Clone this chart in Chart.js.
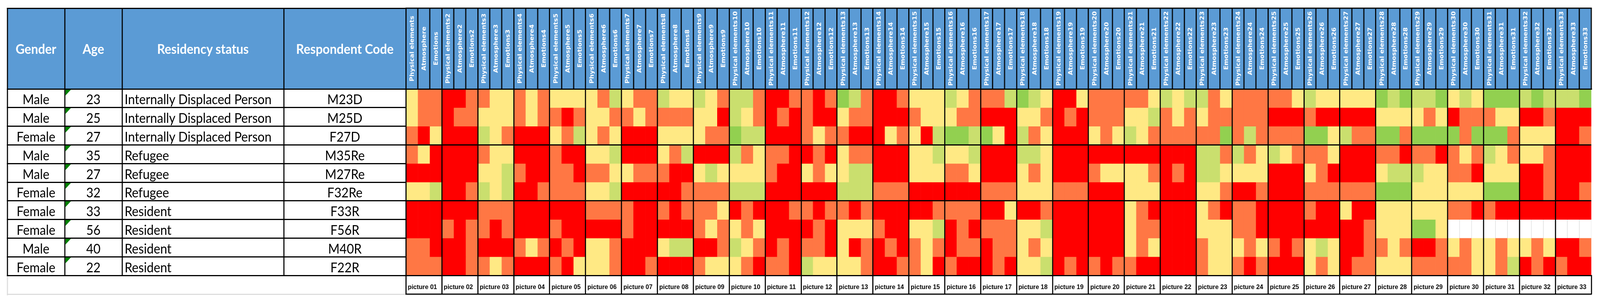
<!DOCTYPE html>
<html><head><meta charset="utf-8">
<script src="https://cdn.jsdelivr.net/npm/chart.js@4/dist/chart.umd.min.js"></script>
<style>
html,body{margin:0;padding:0;background:#fff;overflow:hidden;}
body{width:100vw;height:769px;position:relative;}
#page{position:absolute;left:0;top:0;width:4404px;height:769px;transform-origin:0 0;}
.t{position:absolute;box-sizing:border-box;font-family:Lato,'Open Sans',sans-serif;font-size:34px;color:#000;white-space:nowrap;display:flex;align-items:center;}
.h{color:#fff;font-weight:bold;justify-content:center;}
.c{justify-content:center;}
.l{justify-content:flex-start;padding-left:7px;}
.ln{position:absolute;background:#000;}
.tri{position:absolute;width:0;height:0;border-top:15px solid #008000;border-right:15px solid transparent;}
#wrap{position:absolute;left:1100px;top:0;width:3304px;height:769px;}
</style></head><body>
<div id="page">
<div id="left"></div>
<div id="wrap"><canvas id="c"></canvas></div>
</div>
<script>
// ---- table columns (left part)
const leftHeaders = ['Gender', 'Age', 'Residency status', 'Respondent Code'];
const genders = ['Male','Male','Female','Male','Male','Female','Female','Female','Male','Female'];
const ages = ['23','25','27','35','27','32','33','56','40','22'];
const residency = ['Internally Displaced Person','Internally Displaced Person','Internally Displaced Person','Refugee','Refugee','Refugee','Resident','Resident','Resident','Resident'];
const codes = ['M23D','M25D','F27D','M35Re','M27Re','F32Re','F33R','F56R','M40R','F22R'];

// ---- heatmap column labels
const columnLabels = [
 'Physical elements','Atmosphere','Emotions',
 'Physical elements2','Atmosphere2','Emotions2',
 'Physical elements3','Atmosphere3','Emotions3',
 'Physical elements4','Atmosphere4','Emotions4',
 'Physical elements5','Atmosphere5','Emotions5',
 'Physical elements6','Atmosphere6','Emotions6',
 'Physical elements7','Atmosphere7','Emotions7',
 'Physical elements8','Atmosphere8','Emotions8',
 'Physical elements9','Atmosphere9','Emotions9',
 'Physical elements10','Atmosphere10','Emotions10',
 'Physical elements11','Atmosphere11','Emotions11',
 'Physical elements12','Atmosphere12','Emotions12',
 'Physical elements13','Atmosphere13','Emotions13',
 'Physical elements14','Atmosphere14','Emotions14',
 'Physical elements15','Atmosphere15','Emotions15',
 'Physical elements16','Atmosphere16','Emotions16',
 'Physical elements17','Atmosphere17','Emotions17',
 'Physical elements18','Atmosphere18','Emotions18',
 'Physical elements19','Atmosphere19','Emotions19',
 'Physical elements20','Atmosphere20','Emotions20',
 'Physical elements21','Atmosphere21','Emotions21',
 'Physical elements22','Atmosphere22','Emotions22',
 'Physical elements23','Atmosphere23','Emotions23',
 'Physical elements24','Atmosphere24','Emotions24',
 'Physical elements25','Atmosphere25','Emotions25',
 'Physical elements26','Atmosphere26','Emotions26',
 'Physical elements27','Atmosphere27','Emotions27',
 'Physical elements28','Atmosphere28','Emotions28',
 'Physical elements29','Atmosphere29','Emotions29',
 'Physical elements30','Atmosphere30','Emotions30',
 'Physical elements31','Atmosphere31','Emotions31',
 'Physical elements32','Atmosphere32','Emotions32',
 'Physical elements33','Atmosphere33','Emotions33'
];
const pictures = ['picture 01','picture 02','picture 03','picture 04','picture 05','picture 06','picture 07','picture 08','picture 09','picture 10','picture 11','picture 12','picture 13','picture 14','picture 15','picture 16','picture 17','picture 18','picture 19','picture 20','picture 21','picture 22','picture 23','picture 24','picture 25','picture 26','picture 27','picture 28','picture 29','picture 30','picture 31','picture 32','picture 33'];

// ---- values: 1 = red, 2 = orange, 3 = yellow, 4 = light green, 5 = green, null = empty
const M23D = [3,2,2, 1,1,2, 2,3,3, 2,3,2, 3,3,3, 3,2,4, 3,2,2, 4,3,3, 4,3,2, 4,4,2,
  1,1,2, 2,1,2, 5,4,2, 1,1,2, 3,3,3, 4,3,2, 2,2,4, 5,4,3, 1,1,3, 2,2,2,
  2,2,3, 4,3,4, 4,2,3, 2,2,2, 2,2,3, 4,3,3, 3,3,3, 5,4,5, 4,4,5, 3,4,3,
  5,5,5, 4,5,4, 4,4,5];
const M25D = [3,2,2, 1,2,2, 3,3,3, 2,3,2, 2,1,2, 3,3,2, 2,3,2, 2,2,2, 3,3,1, 4,3,2,
  1,2,1, 2,1,1, 3,2,2, 1,1,1, 2,3,3, 3,2,2, 1,1,1, 3,3,2, 1,2,1, 2,2,2,
  3,3,4, 2,3,2, 3,2,2, 2,2,2, 1,1,1, 2,1,1, 1,1,1, 3,3,3, 3,2,3, 1,2,2,
  2,3,3, 1,1,2, 1,1,1];
const F27D = [2,1,3, 1,1,1, 4,3,2, 1,1,1, 3,2,4, 3,2,3, 1,1,1, 3,3,3, 3,2,2, 5,4,4,
  1,1,1, 2,3,2, 2,1,1, 1,3,2, 3,1,4, 5,5,4, 5,3,1, 4,2,3, 1,1,1, 3,2,3,
  4,3,2, 2,2,2, 2,2,5, 2,4,2, 2,2,2, 5,5,3, 4,2,2, 5,5,2, 5,5,5, 5,2,5,
  5,5,2, 3,3,3, 1,1,2];
const M35Re = [2,3,1, 1,1,1, 2,3,3, 1,1,1, 2,1,1, 3,3,4, 1,1,1, 3,2,4, 1,1,1, 4,2,3,
  2,2,1, 1,2,1, 3,2,2, 1,1,1, 3,3,4, 3,3,4, 1,1,1, 4,4,3, 1,1,1, 1,1,1,
  1,1,1, 1,1,1, 4,4,2, 4,2,3, 4,3,2, 2,2,3, 1,1,1, 2,2,1, 2,2,1, 2,3,2,
  4,3,2, 3,3,2, 1,1,1];
const M27Re = [1,1,1, 1,1,1, 3,3,4, 2,1,1, 2,2,1, 2,2,3, 3,2,2, 2,1,1, 3,4,3, 3,3,3,
  2,1,1, 3,2,3, 3,4,4, 1,1,1, 3,3,3, 2,2,3, 1,1,1, 3,2,3, 1,1,1, 2,3,3,
  3,3,2, 1,2,1, 4,4,3, 3,3,3, 1,1,1, 3,2,1, 1,1,1, 3,4,4, 4,3,3, 2,2,1,
  3,3,3, 1,1,2, 1,1,1];
const F32Re = [3,3,4, 1,1,2, 4,3,4, 1,1,2, 2,2,2, 3,3,4, 1,1,1, 1,1,2, 2,2,2, 4,4,4,
  1,1,1, 1,1,1, 4,4,4, 2,2,2, 1,1,1, 1,1,1, 2,2,2, 3,3,3, 2,2,2, 1,1,1,
  3,3,3, 1,1,1, 3,3,2, 1,1,2, 1,1,1, 2,2,2, 2,2,2, 5,5,5, 3,3,3, 3,3,3,
  5,5,5, 1,1,2, 1,1,2];
const F33R = [1,1,1, 1,1,1, 2,2,2, 1,1,1, 1,1,1, 2,2,2, 2,1,1, 2,1,2, 2,2,3, 1,2,1,
  1,1,2, 2,1,2, 2,1,2, 1,1,1, 1,1,2, 2,2,2, 1,1,3, 1,1,2, 1,1,1, 1,1,1,
  3,2,1, 1,1,1, 3,2,1, 2,2,1, 1,1,1, 2,1,1, 3,1,1, 3,3,3, 3,3,3, 2,2,1,
  2,1,1, 1,1,1, 1,1,1];
const F56R = [1,1,1, 2,1,2, 2,1,2, 1,1,1, 2,1,1, 1,1,1, 2,1,1, 1,1,1, 2,3,2, 3,2,3,
  1,1,1, 1,2,1, 3,3,3, 2,1,1, 3,3,4, 1,2,1, 2,2,2, 3,3,4, 1,1,1, 1,1,1,
  3,2,2, 1,1,1, 3,3,3, 2,2,1, 1,1,1, 1,1,1, 1,1,2, 3,3,3, 5,5,3, null,null,null,
  null,null,null, null,null,null, null,null,null];
const M40R = [2,2,1, 1,1,2, 1,1,1, 2,3,2, 1,2,1, 3,3,2, 1,1,1, 3,4,4, 1,1,2, 4,3,2,
  1,2,1, 2,2,1, 3,1,2, 1,2,1, 2,3,2, 1,2,2, 1,2,2, 3,2,3, 1,1,1, 1,1,1,
  3,2,3, 1,1,1, 2,3,3, 3,2,3, 2,1,2, 3,4,3, 1,1,2, 2,3,2, 1,1,2, 3,2,3,
  3,2,3, 3,2,3, 1,1,2];
const F22R = [2,2,2, 1,1,2, 2,3,2, 1,1,1, 2,1,3, 3,3,2, 1,1,2, 1,1,1, 2,3,3, 3,2,1,
  2,2,1, 4,3,3, 3,3,2, 1,1,2, 2,3,1, 2,1,1, 1,2,1, 3,3,4, 1,2,1, 2,1,2,
  2,1,1, 1,1,1, 2,3,3, 2,1,2, 1,1,1, 3,2,3, 1,2,2, 3,3,3, 2,2,2, 2,2,3,
  3,2,4, 1,2,1, 2,1,1];
const respondentValues = [M23D, M25D, F27D, M35Re, M27Re, F32Re, F33R, F56R, M40R, F22R];
const rowGroupBreaks = [0, 3, 6, 10];

const levelColors = {1:'#FF0000', 2:'#FF7744', 3:'#FFE984', 4:'#CADF6E', 5:'#92D050'};

// fit the 4404px-wide design into the actual window width
const PAGE_W = 4404;
const fit = Math.min(1, window.innerWidth / PAGE_W);
document.getElementById('page').style.transform = 'scaleX(' + fit + ')';

// ---------- left table (HTML) ----------
const LX = [20, 178, 336, 781, 1117.5];
const HT = 21, HB = 228, RB = 706;
const RH = (RB - HB) / codes.length;
const L = document.getElementById('left');
function add(cls, x, y, w, h, text, extra) {
  const d = document.createElement('div');
  d.className = cls;
  d.style.left = x + 'px'; d.style.top = y + 'px';
  d.style.width = w + 'px'; d.style.height = h + 'px';
  if (text !== undefined) d.textContent = text;
  if (extra) Object.assign(d.style, extra);
  L.appendChild(d);
  return d;
}
add('ln', LX[0], HT, LX[4] - LX[0], HB - HT, undefined, {background:'#5B9BD5'});
leftHeaders.forEach((t, j) => add('t h', LX[j], HT, LX[j+1] - LX[j], HB - HT, t));
codes.forEach((code, r) => {
  const y = HB + r * RH;
  const vals = [genders[r], ages[r], residency[r], code];
  const cls = ['t c', 't c', 't l', 't c'];
  vals.forEach((v, j) => add(cls[j], LX[j], y, LX[j+1] - LX[j], RH, v, {paddingTop:'4px'}));
  add('tri', LX[1] + 1.5, y + 1.5, 0, 0);
});
add('ln', LX[0] - 1.5, RB, 3, 51, undefined, {background:'#DDDDDD'});
add('ln', LX[0] - 1.5, 753, LX[4] - LX[0] + 1.5, 3, undefined, {background:'#DDDDDD'});
LX.forEach(x => add('ln', x - 1.5, HT - 1.5, 3, RB - HT + 3));
[HT, HB].concat(codes.map((_, r) => HB + (r + 1) * RH)).forEach(y =>
  add('ln', LX[0] - 1.5, y - 1.5, LX[4] - LX[0] + 3, 3));

// ---------- heatmap (Chart.js) ----------
class HeaderScale extends Chart.CategoryScale {
  static id = 'headerCategory';
  static defaults = Chart.CategoryScale.defaults;
  _computeLabelItems(chartArea) {
    const items = super._computeLabelItems(chartArea);
    const n = this.ticks.length;
    const half = (this.right - this.left) / n / 2;
    const isTop = this.options.position === 'top';
    items.forEach((it, i) => {
      const x = this.getPixelForTick(i);
      if (isTop) {
        it.options.translation = [x + 1, (this.top + this.bottom) / 2];
        it.options.rotation = -Math.PI / 2;
        it.options.textAlign = 'center';
        it.options.textBaseline = 'middle';
      } else {
        it.options.translation = [x - half + 5, this.top + 35];
        it.options.rotation = 0;
        it.options.textAlign = 'left';
        it.options.textBaseline = 'alphabetic';
      }
      it.textOffset = 0;
    });
    return items;
  }
}
Chart.register(HeaderScale);

const datasets = respondentValues.map((vals, r) => ({
  label: codes[r],
  data: vals.map(() => [r, r + 1]),
  backgroundColor: vals.map(v => v == null ? '#FFFFFF' : levelColors[v]),
  borderColor: '#D9D9D9',
  borderWidth: vals.map(v => v == null ? {left: 1, right: 1, top: 0, bottom: 0} : 0),
  borderSkipped: false,
  grouped: false,
  barPercentage: 1,
  categoryPercentage: 1
}));

const borderPlugin = {
  id: 'outerBorder',
  afterDraw(chart) {
    const {ctx, chartArea: a} = chart;
    const top = chart.scales.x.top, bottom = chart.scales.pic.bottom;
    ctx.save();
    ctx.fillStyle = '#000';
    ctx.fillRect(a.left - 1.5, top - 1.5, a.right - a.left + 3, 3);
    ctx.fillRect(a.left - 1.5, bottom - 1.5, a.right - a.left + 3, 3);
    ctx.restore();
  }
};

new Chart(document.getElementById('c'), {
  type: 'bar',
  data: { labels: columnLabels, datasets },
  options: {
    responsive: true,
    maintainAspectRatio: false,
    animation: false,
    devicePixelRatio: 1,
    layout: { padding: { left: 17.5, right: 24, top: 21, bottom: 15 } },
    plugins: { legend: { display: false }, tooltip: { enabled: false } },
    scales: {
      x: {
        type: 'headerCategory', position: 'top', offset: true,
        backgroundColor: '#5B9BD5',
        grid: { offset: true, color: '#000', lineWidth: c => c.index % 3 === 0 ? 3 : 0,
                drawTicks: true, tickLength: 207, tickWidth: 3, tickColor: '#000', z: 1 },
        border: { display: true, color: '#000', width: 3, z: 1 },
        ticks: { autoSkip: false, minRotation: 90, maxRotation: 90, padding: 0, color: '#FFFFFF', z: 2,
                 font: { family: 'DejaVu Sans', size: 16.5, weight: 'bold' } },
        afterFit: s => { s.height = 207; s.paddingLeft = 0; s.paddingRight = 0; }
      },
      pic: {
        type: 'headerCategory', position: 'bottom', offset: true, labels: pictures,
        grid: { offset: true, drawOnChartArea: false, color: '#000', lineWidth: 3,
                drawTicks: true, tickLength: 48, tickWidth: 3, tickColor: '#000' },
        border: { display: true, color: '#000', width: 3, z: 1 },
        ticks: { autoSkip: false, minRotation: 0, maxRotation: 0, padding: 0, color: '#000', z: 2,
                 font: { family: 'Liberation Sans', size: 17, weight: 'bold' } },
        afterFit: s => { s.height = 48; s.paddingLeft = 0; s.paddingRight = 0; }
      },
      y: {
        type: 'linear', min: 0, max: 10, reverse: true, position: 'left',
        ticks: { display: false, stepSize: 1 },
        grid: { color: '#000', lineWidth: c => rowGroupBreaks.includes(c.tick.value) ? 3 : 0,
                drawTicks: false, z: 1 },
        border: { display: false },
        afterFit: s => { s.width = 0; }
      }
    }
  },
  plugins: [borderPlugin]
});
</script>
</body></html>
